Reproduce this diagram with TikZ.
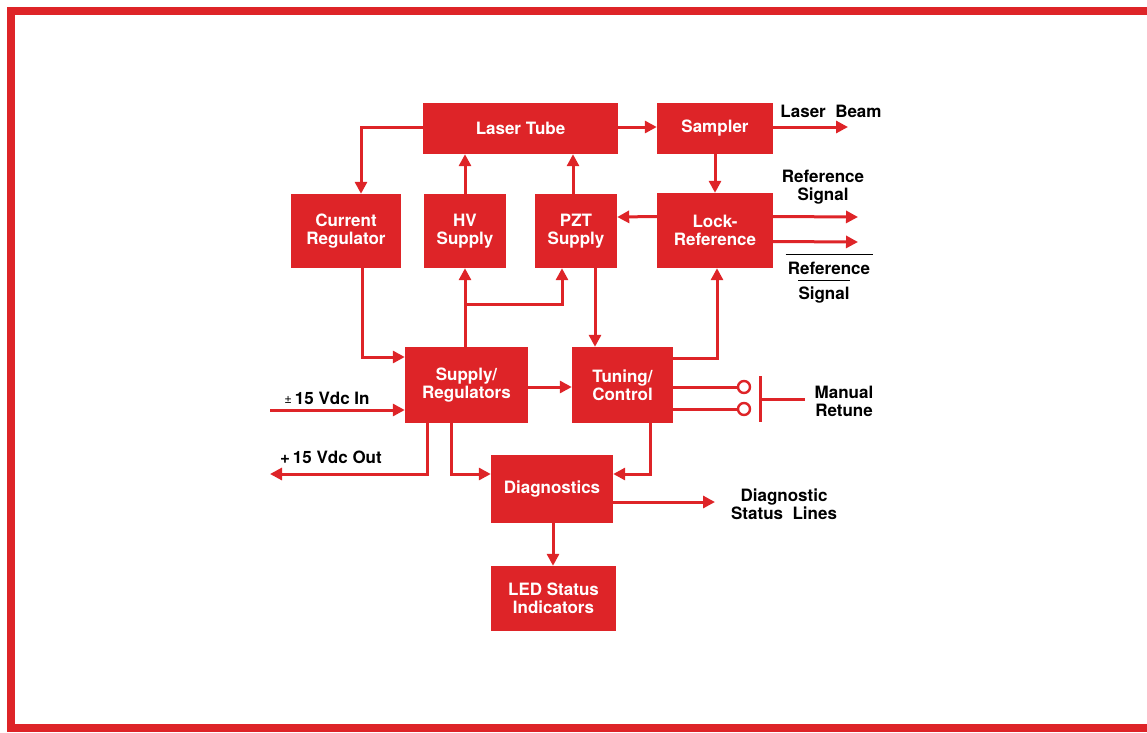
\documentclass[tikz,border=0pt]{standalone}
\usepackage{fontspec}
\setmainfont{TeX Gyre Heros}
\usetikzlibrary{arrows.meta,calc}
\definecolor{hpred}{RGB}{222,36,40}
\tikzset{
  blk/.style={fill=hpred, draw=none, text=white, font=\fontsize{17}{18}\selectfont\bfseries, align=center, inner sep=0pt},
  lbl/.style={text=black, font=\fontsize{17}{18}\selectfont\bfseries, align=center, inner sep=0pt},
  wire/.style={draw=hpred, line width=3pt},
  arr/.style={wire, -{Triangle[length=12pt,width=12pt]}},
  sw/.style={circle, draw=hpred, line width=2.4pt, minimum size=12pt, inner sep=0pt},
  ovl/.style={draw=black, line width=1.6pt},
}
\begin{document}
\begin{tikzpicture}[x=1pt,y=-1pt]
\useasboundingbox (0,0) rectangle (1147,732);
\draw[hpred, line width=8pt] (1147,11) -- (11,11) -- (11,728) -- (1147,728);

% blocks
\node[blk, minimum width=195pt, minimum height=51pt] (LT) at (520.5,128.5) {Laser Tube};
\node[blk, minimum width=116pt, minimum height=51pt] (SA) at (715,128.5) {Sampler};
\node[blk, minimum width=110pt, minimum height=74pt] (CR) at (346,231) {Current\\Regulator};
\node[blk, minimum width=82pt, minimum height=74pt] (HV) at (465,231) {HV\\Supply};
\node[blk, minimum width=82pt, minimum height=74pt] (PZT) at (576,231) {PZT\\Supply};
\node[blk, minimum width=116pt, minimum height=75pt] (LR) at (715,230.5) {Lock-\\Reference};
\node[blk, minimum width=123pt, minimum height=76pt] (SR) at (466.5,385) {Supply/\\Regulators};
\node[blk, minimum width=101pt, minimum height=76pt] (TC) at (622.5,385) {Tuning/\\Control};
\node[blk, minimum width=122pt, minimum height=68pt] (DG) at (552,489) {Diagnostics};
\node[blk, minimum width=125pt, minimum height=65pt] (LED) at (553.5,598.5) {LED Status\\Indicators};

% labels
\node[lbl] (lb) at (831,111) {Laser\ \ Beam};
\node[lbl] (rs) at (823,187) {Reference\\Signal};
\node[lbl] (rsb1) at (829,268) {Reference};
\node[lbl] (rsb2) at (824,295) {Signal};
\draw[ovl] ([xshift=-2pt,yshift=7pt]rsb1.north west) -- ([xshift=3pt,yshift=7pt]rsb1.north east);
\draw[ovl] ([yshift=6pt]rsb2.north west) -- ([yshift=6pt]rsb2.north east);
\node[lbl] (vin) at (327,398) {{\fontsize{13}{13}\selectfont\mdseries\raisebox{1pt}{±}}\,15 Vdc In};
\node[lbl] (vout) at (331,457) {+\,15 Vdc Out};
\node[lbl] (dsl) at (784,504) {Diagnostic\\Status\ \ Lines};
\node[lbl] (mr) at (844,401) {Manual\\Retune};

% free ends
\coordinate (lbEnd) at (848,127);
\coordinate (rsEnd1) at (858,217);
\coordinate (rsEnd2) at (858,242);
\coordinate (inStart) at (270,410);
\coordinate (outEnd) at (270,474);
\coordinate (dslEnd) at (715,502);
\coordinate (br) at (465,304);

% connectors
\draw[arr] ([yshift=1.5pt]LT.west) -| ([xshift=15pt]CR.north);
\draw[arr] ([xshift=16pt]CR.south) |- ([yshift=28pt]SR.west);
\draw[arr] (SR.north -| HV.south) -- (HV.south);
\draw[arr] (br) -| ([xshift=-14pt]PZT.south);
\draw[arr] (HV.north) -- (HV.north |- LT.south);
\draw[arr] ([xshift=-3pt]PZT.north) -- ([xshift=-3pt]PZT.north |- LT.south);
\draw[arr] ([yshift=1.5pt]LT.east) -- ([yshift=1.5pt]SA.west);
\draw[arr] ([yshift=1.5pt]SA.east) -- (lbEnd);
\draw[arr] (SA.south) -- (LR.north);
\draw[arr] ([yshift=14pt]LR.west) -- ([yshift=14pt]PZT.east);
\draw[arr] ([yshift=14pt]LR.east) -- (rsEnd1);
\draw[arr] ([yshift=-11pt]LR.east) -- (rsEnd2);
\draw[arr] ([xshift=19pt]PZT.south) -- ([xshift=19pt]PZT.south |- TC.north);
\draw[arr] ([yshift=27pt]TC.east) -| ([xshift=2pt]LR.south);
\draw[arr] ([yshift=-2pt]SR.east) -- ([yshift=-2pt]TC.west);
\draw[arr] (inStart) -- (inStart -| SR.west);
\draw[arr] ([xshift=-39.5pt]SR.south) |- (outEnd);
\draw[arr] ([xshift=-15.5pt]SR.south) |- ([yshift=15pt]DG.west);
\draw[arr] ([xshift=27.5pt]TC.south) |- ([yshift=15pt]DG.east);
\draw[arr] ([yshift=-13pt]DG.east) -- (dslEnd);
\draw[arr] ([xshift=1pt]DG.south) -- ([xshift=1pt]DG.south |- LED.north);

% manual retune switch
\node[sw] (s1) at (744,387) {};
\node[sw] (s2) at (744,409) {};
\draw[wire] (TC.east |- s1) -- (s1);
\draw[wire] (TC.east |- s2) -- (s2);
\coordinate (barTop) at (760,376);
\coordinate (barBot) at (760,422);
\coordinate (barMid) at (760,399);
\coordinate (barEnd) at (805,399);
\draw[wire] (barTop) -- (barBot);
\draw[wire] (barMid) -- (barEnd);
\end{tikzpicture}
\end{document}
